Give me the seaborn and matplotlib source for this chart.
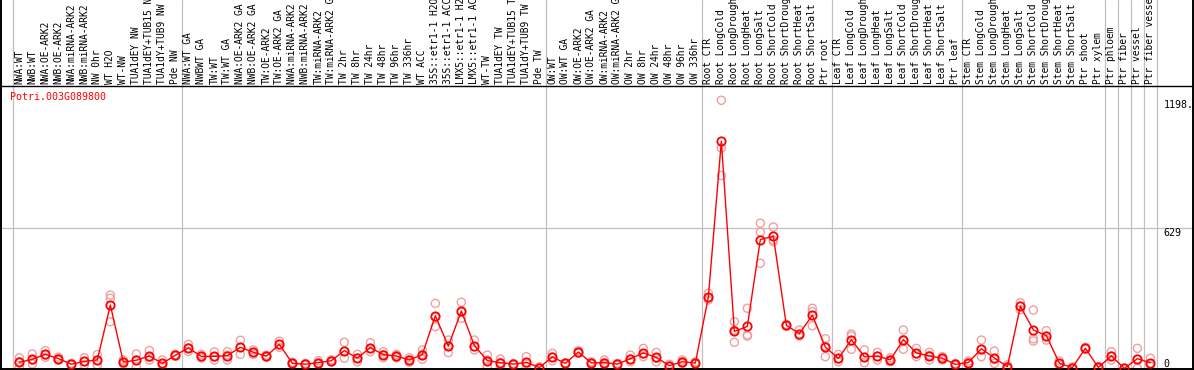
import numpy as np
import pandas as pd
import matplotlib.pyplot as plt
import seaborn as sns

# sample names (rotated labels along the top)
labels = [
    "NWA:WT", "NWB:WT", "NWA:OE-ARK2", "NWB:OE-ARK2", "NWA:miRNA-ARK2", "NWB:miRNA-ARK2",
    "NW 0hr", "WT H2O", "WT-NW", "TUA1dEY NW", "TUA1dEY+TUB15 NW", "TUA1dY+TUB9 NW", "Pde NW",
    "NWA:WT GA", "NWBWT GA", "TW:WT", "TW:WT GA", "NWA:OE-ARK2 GA", "NWB:OE-ARK2 GA",
    "TW:OE-ARK2", "TW:OE-ARK2 GA", "NWA:miRNA-ARK2 GA", "NWB:miRNA-ARK2 GA", "TW:miRNA-ARK2",
    "TW:miRNA-ARK2 GA", "TW 2hr", "TW 8hr", "TW 24hr", "TW 48hr", "TW 96hr", "TW 336hr",
    "WT ACC", "35S::etr1-1 H2O", "35S::etr1-1 ACC", "LMX5::etr1-1 H2O", "LMX5::etr1-1 ACC",
    "WT-TW", "TUA1dEY TW", "TUA1dEY+TUB15 TW", "TUA1dY+TUB9 TW", "Pde TW",
    "OW:WT", "OW:WT GA", "OW:OE-ARK2", "OW:OE-ARK2 GA", "OW:miRNA-ARK2", "OW:miRNA-ARK2 GA",
    "OW 2hr", "OW 8hr", "OW 24hr", "OW 48hr", "OW 96hr", "OW 336hr",
    "Root CTR", "Root LongCold", "Root LongDrought", "Root LongHeat", "Root LongSalt",
    "Root ShortCold", "Root ShortDrought", "Root ShortHeat", "Root ShortSalt", "Ptr root",
    "Leaf CTR", "Leaf LongCold", "Leaf LongDrought", "Leaf LongHeat", "Leaf LongSalt",
    "Leaf ShortCold", "Leaf ShortDrought", "Leaf ShortHeat", "Leaf ShortSalt", "Ptr leaf",
    "Stem CTR", "Stem LongCold", "Stem LongDrought", "Stem LongHeat", "Stem LongSalt",
    "Stem ShortCold", "Stem ShortDrought", "Stem ShortHeat", "Stem ShortSalt", "Ptr shoot",
    "Ptr xylem", "Ptr phloem", "Ptr fiber", "Ptr vessel", "Ptr fiber vessel",
]
group_sizes = [13, 28, 12, 10, 10, 11, 1, 1, 1, 1]

# three replicates per sample
rep1 = [48, 65, 80, 51, 23, 48, 62, 328, 38, 65, 80, 38, 63,
        108, 63, 74, 75, 126, 83, 60, 122, 28, 23, 35, 39, 117, 63, 115, 75, 63, 48,
        83, 291, 127, 296, 127, 60, 42, 23, 53, 8,
        68, 26, 80, 30, 38, 23, 60, 90, 72, 19, 38, 30,
        336, 1198, 209, 269, 649, 632, 197, 172, 269, 133,
        63, 154, 83, 72, 48, 172, 90, 72, 53, 23,
        34, 127, 78, 16, 294, 261, 169, 34, 7, 95, 8,
        75, 1, 90, 46]
rep2 = [30, 38, 60, 44, 19, 30, 38, 314, 29, 38, 50, 20, 59,
        92, 53, 51, 60, 95, 72, 55, 106, 23, 19, 25, 35, 77, 47, 90, 63, 56, 38,
        63, 229, 101, 251, 97, 38, 28, 20, 21, 4,
        51, 23, 72, 25, 26, 20, 41, 65, 46, 11, 30, 23,
        316, 985, 171, 150, 609, 574, 193, 151, 254, 101,
        42, 145, 50, 55, 39, 129, 66, 59, 46, 19,
        26, 84, 41, 7, 278, 133, 144, 21, 4, 90, 5,
        56, 0, 41, 20]
rep3 = [5, 20, 50, 38, 16, 16, 16, 209, 20, 8, 38, 11, 55,
        76, 46, 38, 38, 63, 63, 50, 95, 19, 16, 19, 30, 46, 30, 75, 48, 48, 28,
        41, 187, 71, 224, 83, 8, 8, 16, 8, 1,
        35, 20, 68, 20, 16, 16, 30, 53, 30, 8, 23, 20,
        306, 862, 117, 145, 470, 567, 189, 145, 191, 53,
        30, 86, 26, 38, 30, 86, 53, 38, 38, 14,
        20, 53, 23, 1, 262, 123, 127, 16, 1, 86, 1,
        38, 0, 1, 11]

gene = "Potri.003G089800"
y_ticks = [1198, 629, 0]
y_tick_text = ["1198.", "629", "0"]

n = len(labels)
df = pd.DataFrame({
    "pos": np.tile(np.arange(n), 3),
    "value": rep1 + rep2 + rep3,
})

sns.set_theme(style="white")
plt.rcParams["font.family"] = ["DejaVu Sans Mono"]

fig = plt.figure(figsize=(11.94, 3.70), dpi=100)
# axes covers the whole height: the label strip sits above the black line
ax = fig.add_axes([1 / 1194, 1 / 370, 1192 / 1194, 369 / 370])
ax.set_xlim(-1.41, 90.28)
ax.set_ylim(-2.2, 1646)
top_line = 1262

# group separators
edges = np.concatenate([[0], np.cumsum(group_sizes)]) - 0.5
for e in edges:
    ax.axvline(e, color="#c0c0c0", lw=0.9, zorder=0)
ax.axhline(629, color="#c0c0c0", lw=0.9, zorder=0)
ax.axhline(top_line, color="black", lw=1.0, zorder=1)

sns.scatterplot(data=df, x="pos", y="value", ax=ax, marker="o", s=34,
                facecolor="none", edgecolor="#f0a0a0", linewidth=1.0, zorder=2,
                legend=False)
sns.lineplot(data=df, x="pos", y="value", ax=ax, estimator="mean", errorbar=None,
             color="red", lw=1.0, marker="o", markersize=6,
             markerfacecolor="none", markeredgecolor="red", markeredgewidth=1.3,
             zorder=3)

for i, lab in enumerate(labels):
    ax.text(i, 1271, lab, rotation=90, ha="center", va="bottom",
            fontsize=6.9, color="black", clip_on=False)

ax.text(-0.72, 1213, gene, color="red", fontsize=7.2, ha="left", va="center")

for v, t in zip(y_ticks, y_tick_text):
    ax.text(88.0, v, t, fontsize=7.2, ha="left",
            va="bottom" if v == 0 else "top", color="black")

ax.set_xlabel("")
ax.set_ylabel("")
ax.set_xticks([])
ax.set_yticks([])
for side in ["left", "right", "bottom"]:
    ax.spines[side].set_color("black")
    ax.spines[side].set_linewidth(1.4)
ax.spines["top"].set_visible(False)

fig.savefig("out.png", dpi=100)
